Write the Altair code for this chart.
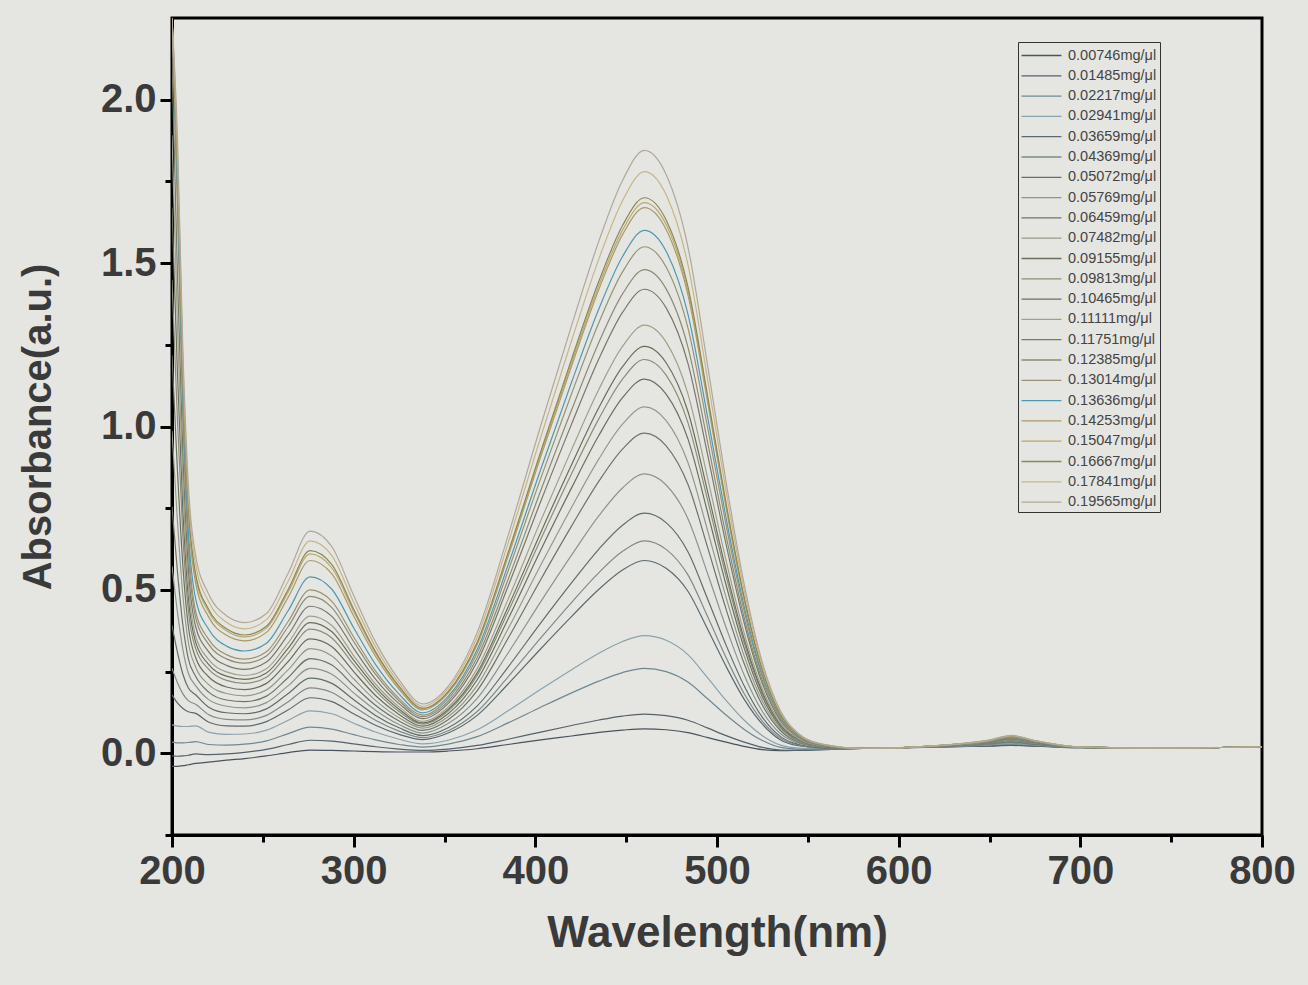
import altair as alt
import pandas as pd

wavelength = [200, 203, 206, 209, 213, 220, 230, 240, 252, 264, 276, 288, 300, 312, 325,
              338, 352, 368, 385, 403, 420, 435, 448, 460, 472, 484, 495, 505, 515, 525,
              535, 545, 558, 580, 620, 650, 662, 675, 700, 750, 800]

labels = ["0.00746mg/μl", "0.01485mg/μl", "0.02217mg/μl", "0.02941mg/μl", "0.03659mg/μl",
          "0.04369mg/μl", "0.05072mg/μl", "0.05769mg/μl", "0.06459mg/μl", "0.07482mg/μl",
          "0.09155mg/μl", "0.09813mg/μl", "0.10465mg/μl", "0.11111mg/μl", "0.11751mg/μl",
          "0.12385mg/μl", "0.13014mg/μl", "0.13636mg/μl", "0.14253mg/μl", "0.15047mg/μl",
          "0.16667mg/μl", "0.17841mg/μl", "0.19565mg/μl"]

colors = ["#48535e", "#56616b", "#6f8793", "#8aa2ad", "#5b6a70", "#7f8a8a", "#5f6f66",
          "#8a9490", "#6c7468", "#949a88", "#66705c", "#8c8c78", "#6a6e58", "#a0a08a",
          "#77776a", "#8d8a74", "#9a9270", "#4f98b3", "#a89a6a", "#b8a86c", "#8d8650",
          "#c8b488", "#b0a898"]

s01 = [-0.040, -0.040, -0.038, -0.035, -0.031, -0.027, -0.021, -0.016, -0.008, 0.002, 0.010, 0.009, 0.007, 0.005, 0.004, 0.004, 0.007, 0.014, 0.027, 0.041, 0.053, 0.064, 0.071, 0.075, 0.072, 0.063, 0.048, 0.034, 0.021, 0.011, 0.008, 0.009, 0.011, 0.015, 0.019, 0.022, 0.024, 0.022, 0.017, 0.016, 0.020]
s02 = [-0.008, -0.009, -0.008, -0.006, -0.002, -0.004, -0.002, 0.003, 0.012, 0.027, 0.040, 0.037, 0.029, 0.020, 0.013, 0.009, 0.013, 0.024, 0.043, 0.065, 0.085, 0.102, 0.114, 0.120, 0.115, 0.101, 0.077, 0.054, 0.034, 0.018, 0.010, 0.009, 0.011, 0.015, 0.019, 0.023, 0.025, 0.023, 0.017, 0.016, 0.020]
s03 = [0.034, 0.032, 0.032, 0.033, 0.036, 0.027, 0.025, 0.028, 0.038, 0.060, 0.080, 0.074, 0.057, 0.041, 0.027, 0.019, 0.028, 0.051, 0.093, 0.141, 0.185, 0.221, 0.247, 0.260, 0.250, 0.218, 0.166, 0.117, 0.073, 0.039, 0.018, 0.013, 0.013, 0.015, 0.019, 0.025, 0.028, 0.024, 0.017, 0.016, 0.020]
s04 = [0.087, 0.083, 0.082, 0.082, 0.084, 0.065, 0.058, 0.059, 0.071, 0.101, 0.130, 0.121, 0.092, 0.065, 0.043, 0.029, 0.040, 0.072, 0.130, 0.196, 0.256, 0.306, 0.342, 0.360, 0.346, 0.302, 0.230, 0.162, 0.101, 0.054, 0.025, 0.016, 0.014, 0.015, 0.020, 0.026, 0.030, 0.026, 0.018, 0.016, 0.020]
s05 = [0.179, 0.154, 0.137, 0.127, 0.122, 0.096, 0.084, 0.083, 0.097, 0.133, 0.170, 0.158, 0.121, 0.086, 0.058, 0.042, 0.062, 0.116, 0.212, 0.320, 0.419, 0.502, 0.561, 0.590, 0.566, 0.496, 0.378, 0.266, 0.165, 0.089, 0.041, 0.023, 0.016, 0.015, 0.020, 0.028, 0.033, 0.027, 0.018, 0.016, 0.020]
s06 = [0.260, 0.216, 0.182, 0.161, 0.150, 0.119, 0.104, 0.102, 0.116, 0.158, 0.200, 0.186, 0.143, 0.101, 0.068, 0.048, 0.069, 0.128, 0.234, 0.353, 0.462, 0.553, 0.618, 0.650, 0.624, 0.546, 0.416, 0.293, 0.182, 0.098, 0.046, 0.025, 0.017, 0.015, 0.020, 0.028, 0.034, 0.028, 0.018, 0.016, 0.020]
s07 = [0.392, 0.309, 0.242, 0.200, 0.179, 0.142, 0.124, 0.121, 0.136, 0.183, 0.230, 0.214, 0.164, 0.116, 0.078, 0.054, 0.078, 0.145, 0.264, 0.399, 0.522, 0.625, 0.698, 0.735, 0.706, 0.617, 0.470, 0.331, 0.206, 0.110, 0.051, 0.027, 0.017, 0.015, 0.020, 0.030, 0.036, 0.029, 0.018, 0.016, 0.020]
s08 = [0.573, 0.432, 0.317, 0.245, 0.207, 0.165, 0.144, 0.139, 0.155, 0.207, 0.260, 0.242, 0.185, 0.132, 0.088, 0.062, 0.091, 0.168, 0.307, 0.464, 0.607, 0.727, 0.812, 0.855, 0.821, 0.718, 0.547, 0.385, 0.239, 0.128, 0.060, 0.031, 0.019, 0.015, 0.021, 0.031, 0.038, 0.030, 0.018, 0.016, 0.020]
s09 = [0.755, 0.556, 0.392, 0.289, 0.236, 0.188, 0.163, 0.158, 0.175, 0.232, 0.290, 0.270, 0.207, 0.147, 0.099, 0.070, 0.103, 0.192, 0.352, 0.532, 0.696, 0.833, 0.931, 0.980, 0.941, 0.823, 0.627, 0.441, 0.274, 0.147, 0.069, 0.034, 0.020, 0.015, 0.021, 0.032, 0.040, 0.031, 0.018, 0.016, 0.020]
s10 = [0.986, 0.710, 0.482, 0.339, 0.264, 0.211, 0.183, 0.176, 0.194, 0.256, 0.320, 0.298, 0.228, 0.162, 0.109, 0.077, 0.112, 0.208, 0.381, 0.576, 0.753, 0.901, 1.007, 1.060, 1.018, 0.890, 0.678, 0.477, 0.297, 0.159, 0.074, 0.037, 0.021, 0.015, 0.021, 0.033, 0.042, 0.032, 0.018, 0.016, 0.020]
s11 = [1.218, 0.865, 0.572, 0.388, 0.293, 0.235, 0.203, 0.195, 0.214, 0.281, 0.350, 0.326, 0.250, 0.177, 0.119, 0.083, 0.121, 0.225, 0.411, 0.622, 0.813, 0.973, 1.088, 1.145, 1.099, 0.962, 0.733, 0.515, 0.321, 0.172, 0.080, 0.039, 0.021, 0.015, 0.022, 0.034, 0.044, 0.033, 0.018, 0.016, 0.020]
s12 = [1.449, 1.020, 0.662, 0.437, 0.321, 0.258, 0.223, 0.214, 0.233, 0.306, 0.380, 0.353, 0.271, 0.192, 0.128, 0.089, 0.129, 0.238, 0.433, 0.655, 0.856, 1.024, 1.145, 1.205, 1.157, 1.012, 0.771, 0.542, 0.337, 0.181, 0.084, 0.041, 0.022, 0.015, 0.022, 0.035, 0.045, 0.034, 0.018, 0.016, 0.020]
s13 = [1.670, 1.164, 0.742, 0.477, 0.340, 0.273, 0.236, 0.226, 0.246, 0.322, 0.400, 0.372, 0.285, 0.202, 0.135, 0.093, 0.134, 0.246, 0.448, 0.676, 0.884, 1.058, 1.183, 1.245, 1.195, 1.046, 0.797, 0.560, 0.349, 0.187, 0.087, 0.042, 0.022, 0.015, 0.022, 0.036, 0.046, 0.034, 0.018, 0.016, 0.020]
s14 = [1.891, 1.308, 0.822, 0.517, 0.359, 0.288, 0.249, 0.238, 0.259, 0.338, 0.420, 0.391, 0.299, 0.212, 0.142, 0.098, 0.141, 0.259, 0.471, 0.712, 0.930, 1.114, 1.245, 1.310, 1.258, 1.100, 0.838, 0.590, 0.367, 0.197, 0.092, 0.044, 0.023, 0.015, 0.022, 0.036, 0.047, 0.035, 0.018, 0.016, 0.020]
s15 = [2.120, 1.463, 0.912, 0.566, 0.388, 0.312, 0.269, 0.257, 0.279, 0.363, 0.450, 0.419, 0.321, 0.227, 0.152, 0.106, 0.152, 0.280, 0.511, 0.771, 1.008, 1.207, 1.349, 1.420, 1.363, 1.193, 0.909, 0.639, 0.398, 0.213, 0.099, 0.048, 0.024, 0.015, 0.022, 0.037, 0.048, 0.035, 0.018, 0.016, 0.020]
s16 = [2.250, 1.680, 1.032, 0.625, 0.416, 0.335, 0.289, 0.276, 0.298, 0.388, 0.480, 0.446, 0.342, 0.242, 0.161, 0.112, 0.159, 0.293, 0.532, 0.804, 1.051, 1.258, 1.406, 1.480, 1.421, 1.243, 0.947, 0.666, 0.414, 0.222, 0.104, 0.049, 0.025, 0.015, 0.022, 0.037, 0.049, 0.036, 0.018, 0.016, 0.020]
s17 = [2.250, 1.700, 1.052, 0.645, 0.435, 0.350, 0.302, 0.288, 0.311, 0.404, 0.500, 0.465, 0.356, 0.252, 0.168, 0.117, 0.167, 0.307, 0.558, 0.842, 1.101, 1.318, 1.473, 1.550, 1.488, 1.302, 0.992, 0.698, 0.434, 0.233, 0.109, 0.052, 0.026, 0.015, 0.023, 0.038, 0.050, 0.037, 0.019, 0.016, 0.020]
s18 = [2.250, 1.741, 1.092, 0.684, 0.473, 0.381, 0.328, 0.313, 0.337, 0.437, 0.540, 0.502, 0.384, 0.272, 0.181, 0.124, 0.174, 0.318, 0.576, 0.869, 1.136, 1.360, 1.520, 1.600, 1.536, 1.344, 1.024, 0.720, 0.448, 0.240, 0.112, 0.053, 0.026, 0.015, 0.023, 0.039, 0.051, 0.037, 0.019, 0.016, 0.020]
s19 = [2.250, 1.792, 1.142, 0.733, 0.521, 0.419, 0.361, 0.344, 0.370, 0.478, 0.590, 0.549, 0.420, 0.297, 0.196, 0.133, 0.184, 0.333, 0.602, 0.908, 1.186, 1.420, 1.587, 1.670, 1.603, 1.403, 1.069, 0.752, 0.468, 0.251, 0.117, 0.055, 0.027, 0.015, 0.023, 0.039, 0.052, 0.038, 0.019, 0.016, 0.020]
s20 = [2.250, 1.812, 1.162, 0.753, 0.540, 0.435, 0.375, 0.356, 0.383, 0.494, 0.610, 0.567, 0.434, 0.306, 0.202, 0.136, 0.187, 0.337, 0.608, 0.916, 1.196, 1.432, 1.601, 1.685, 1.618, 1.415, 1.078, 0.758, 0.472, 0.253, 0.118, 0.056, 0.027, 0.015, 0.023, 0.040, 0.053, 0.038, 0.019, 0.016, 0.020]
s21 = [2.250, 1.822, 1.172, 0.763, 0.549, 0.442, 0.381, 0.362, 0.389, 0.502, 0.620, 0.577, 0.441, 0.311, 0.205, 0.138, 0.189, 0.340, 0.614, 0.924, 1.207, 1.445, 1.615, 1.700, 1.632, 1.428, 1.088, 0.765, 0.476, 0.255, 0.119, 0.056, 0.027, 0.015, 0.023, 0.040, 0.053, 0.038, 0.019, 0.016, 0.020]
s22 = [2.250, 1.853, 1.202, 0.792, 0.578, 0.466, 0.401, 0.381, 0.409, 0.527, 0.650, 0.605, 0.462, 0.326, 0.215, 0.144, 0.198, 0.356, 0.643, 0.968, 1.264, 1.513, 1.691, 1.780, 1.709, 1.495, 1.139, 0.801, 0.498, 0.267, 0.125, 0.058, 0.028, 0.015, 0.023, 0.040, 0.054, 0.039, 0.019, 0.016, 0.020]
s23 = [2.250, 1.884, 1.232, 0.821, 0.606, 0.489, 0.421, 0.400, 0.428, 0.552, 0.680, 0.632, 0.483, 0.341, 0.225, 0.151, 0.205, 0.370, 0.666, 1.003, 1.310, 1.568, 1.753, 1.845, 1.771, 1.550, 1.181, 0.830, 0.517, 0.277, 0.129, 0.060, 0.028, 0.015, 0.023, 0.041, 0.055, 0.039, 0.019, 0.016, 0.020]

series = [s01, s02, s03, s04, s05, s06, s07, s08, s09, s10, s11, s12, s13, s14, s15,
          s16, s17, s18, s19, s20, s21, s22, s23]

x_major = [200, 300, 400, 500, 600, 700, 800]
x_minor = [250, 350, 450, 550, 650, 750]
y_major = [0.0, 0.5, 1.0, 1.5, 2.0]
y_minor = [-0.25, 0.25, 0.75, 1.25, 1.75]

rows = []
for i, (lab, vals) in enumerate(zip(labels, series)):
    for w, v in zip(wavelength, vals):
        rows.append({"wavelength": w, "absorbance": v, "sample": lab, "k": i})
df = pd.DataFrame(rows)

xscale = alt.Scale(domain=[200, 800], nice=False, zero=False)
yscale = alt.Scale(domain=[-0.25, 2.25], nice=False, zero=False)
TXT = "#3a3a3a"

lines = alt.Chart(df).mark_line(strokeWidth=1.2, interpolate="monotone", clip=True).encode(
    x=alt.X("wavelength:Q", scale=xscale,
            axis=alt.Axis(values=x_major, format="d", title="Wavelength(nm)",
                          labelFontSize=40, labelFontWeight="bold", labelColor=TXT,
                          labelPadding=4, tickSize=12, titleFontSize=44,
                          titleFontWeight="bold", titleColor=TXT, titlePadding=20,
                          labelFlush=False)),
    y=alt.Y("absorbance:Q", scale=yscale,
            axis=alt.Axis(values=y_major, format=".1f", title="Absorbance(a.u.)",
                          labelFontSize=40, labelFontWeight="bold", labelColor=TXT,
                          labelPadding=4, tickSize=12, titleFontSize=40,
                          titleFontWeight="bold", titleColor=TXT, titlePadding=42)),
    color=alt.Color("sample:N", scale=alt.Scale(domain=labels, range=colors),
                    legend=alt.Legend(title=None, orient="none", legendX=846, legendY=24,
                                      symbolType="M-2.1,0H2.1", symbolSize=361,
                                      symbolStrokeWidth=1.3, symbolOffset=10,
                                      labelOffset=16, labelFontSize=14.5,
                                      labelColor="#444444", strokeColor="#333333",
                                      padding=3, rowPadding=3.3, labelLimit=300)),
    order=alt.Order("k:Q"),
)

minor = alt.Chart(df).mark_point(opacity=0, clip=True).encode(
    x=alt.X("wavelength:Q", scale=xscale,
            axis=alt.Axis(values=x_minor, labels=False, title=None, tickSize=7,
                          domain=False, orient="bottom")),
    y=alt.Y("absorbance:Q", scale=yscale,
            axis=alt.Axis(values=y_minor, labels=False, title=None, tickSize=7,
                          domain=False, orient="left")),
)

chart = alt.layer(lines, minor).resolve_axis(x="independent", y="independent").properties(
    width=1090, height=817, autosize="none",
    padding={"left": 172, "top": 18, "right": 46, "bottom": 150},
    background="#e5e6e2",
).configure_view(stroke="black", strokeWidth=3).configure_axis(
    grid=False, domainColor="black", domainWidth=3, tickColor="black", tickWidth=3,
    labelFont="Liberation Sans", titleFont="Liberation Sans",
).configure_legend(labelFont="Liberation Sans")

chart.save("out.html", embed_options={"renderer": "svg", "actions": False})
